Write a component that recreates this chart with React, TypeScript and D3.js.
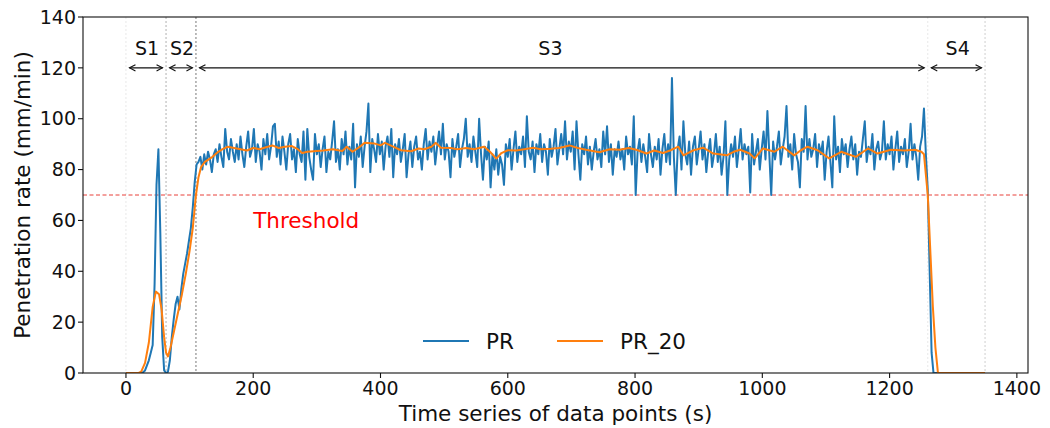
import React from "react";
import * as d3 from "d3";

// ---------- DATA ----------
// PR sampled every 3 s starting at t = 0
const prStep = 3;
const prValues: number[] = [
  // t = 0 .. 111
  0, 0, 0, 0, 0, 0, 0, 0, 0, 0.3, 1, 3, 5, 8, 11, 35, 74, 88, 55, 14,
  1, 0, 0.5, 5, 14, 21, 27, 30, 25, 33, 39, 43, 47, 52, 57, 65, 75, 82,
  // t = 114 .. 171
  83, 85, 80, 86, 82, 87, 84, 79, 86, 88, 83, 90, 85, 81, 96, 87, 84, 92, 87, 83,
  // t = 174 .. 231
  90, 84, 93, 86, 81, 89, 95, 85, 88, 96, 83, 90, 87, 80, 92, 86, 94, 84, 89, 97,
  // t = 234 .. 291
  98, 85, 91, 82, 93, 87, 80, 90, 94, 84, 88, 79, 92, 86, 83, 95, 76, 96, 85, 80,
  // t = 294 .. 351
  76, 94, 86, 90, 81, 88, 93, 79, 87, 84, 91, 99, 83, 88, 80, 92, 86, 95, 82, 89,
  // t = 354 .. 411
  84, 98, 73, 90, 85, 93, 81, 89, 95, 106, 79, 92, 88, 83, 94, 86, 91, 80, 89, 93,
  // t = 414 .. 471
  85, 96, 77, 90, 86, 92, 83, 88, 94, 77, 86, 91, 81, 89, 93, 84, 87, 80, 90, 96,
  // t = 474 .. 531
  84, 91, 87, 93, 82, 89, 95, 86, 98, 84, 90, 87, 77, 92, 85, 89, 94, 81, 88, 92,
  // t = 534 .. 591
  100, 85, 90, 83, 93, 87, 81, 100, 86, 76, 89, 84, 91, 73, 86, 80, 88, 78, 85, 82,
  // t = 594 .. 651
  74, 90, 85, 92, 80, 88, 95, 83, 89, 86, 93, 81, 101, 87, 84, 91, 79, 90, 86, 94,
  // t = 654 .. 711
  83, 90, 87, 78, 92, 85, 89, 96, 82, 88, 94, 86, 99, 84, 91, 87, 95, 80, 99, 86,
  // t = 714 .. 771
  76, 90, 86, 93, 82, 89, 80, 87, 92, 84, 88, 81, 95, 86, 97, 83, 90, 78, 88, 85,
  // t = 774 .. 831
  91, 84, 88, 80, 93, 86, 89, 82, 101, 70, 87, 92, 83, 90, 85, 79, 94, 86, 81, 89,
  // t = 834 .. 891
  84, 92, 78, 88, 94, 83, 90, 82, 116, 85, 70, 88, 93, 80, 99, 86, 82, 91, 78, 89,
  // t = 894 .. 951
  93, 82, 88, 95, 84, 90, 79, 87, 92, 81, 86, 94, 83, 89, 78, 85, 99, 70, 84, 90,
  // t = 954 .. 1011
  85, 93, 81, 88, 96, 84, 90, 86, 89, 71, 94, 82, 87, 92, 80, 88, 95, 84, 103, 86,
  // t = 1014 .. 1071
  70, 91, 84, 89, 95, 82, 88, 93, 105, 85, 90, 80, 94, 86, 83, 73, 92, 87, 105, 84,
  // t = 1074 .. 1131
  92, 85, 88, 94, 81, 90, 86, 91, 76, 87, 93, 83, 73, 101, 84, 89, 79, 92, 86, 90,
  // t = 1134 .. 1191
  81, 88, 93, 84, 90, 78, 87, 85, 92, 99, 83, 89, 86, 94, 80, 88, 91, 84, 87, 99,
  // t = 1194 .. 1251
  84, 90, 86, 93, 80, 88, 95, 83, 89, 86, 92, 81, 87, 98, 84, 90, 85, 76, 89, 93,
  // t = 1254 .. 1350
  104, 86, 72, 40, 8, 0, 0, 0, 0, 0, 0, 0, 0, 0, 0, 0, 0, 0, 0, 0,
  0, 0, 0, 0, 0, 0, 0, 0, 0, 0, 0, 0, 0,
];

// PR_20 (rolling mean) read at irregular times
const pr20Times: number[] = [
  0, 20, 24, 30, 36, 42, 47, 52, 56, 60, 63, 66, 70, 76, 82, 88, 94, 100, 105, 110,
  114, 118, 124, 130, 136, 145, 152, 160, 170, 180, 190, 200, 210, 220, 230, 240, 250, 260, 270, 277,
  285, 295, 310, 325, 340, 347, 356, 365, 375, 390, 400, 407, 420, 432, 448, 460, 469, 480, 487, 495,
  510, 521, 535, 547, 563, 572, 582, 590, 600, 613, 626, 640, 652, 668, 680, 689, 697, 710, 723, 744,
  760, 776, 790, 802, 818, 830, 844, 855, 868, 876, 892, 907, 923, 944, 955, 965, 980, 988, 1001, 1019,
  1032, 1050, 1060, 1071, 1087, 1105, 1124, 1135, 1147, 1166, 1181, 1202, 1223, 1240, 1250, 1254, 1257, 1260, 1264, 1268,
  1272, 1276, 1300, 1350,
];
const pr20Values: number[] = [
  0, 0, 0.5, 4, 12, 26, 32, 31, 25, 14, 8, 6.5, 10, 17, 24, 31, 39, 48, 57, 70,
  77, 81, 83, 84, 85, 87, 88, 89, 88.5, 88, 87.5, 88.5, 88, 88.8, 89.5, 88.5, 89, 89.3, 88, 86.5,
  87, 87.2, 87.5, 88, 87.3, 89, 87, 88.5, 90.5, 90.3, 89.5, 90.5, 89, 87.6, 87.2, 88.3, 88, 89, 90.5, 88.6,
  88.5, 88, 88.5, 88, 89, 87, 84.3, 86.5, 87.6, 87.5, 88, 88.6, 88, 88.2, 88.5, 89, 89.5, 88.5, 87.8, 86.8,
  88, 87.8, 88.5, 87.8, 86.3, 87.5, 86.5, 87.5, 89, 85.6, 87.6, 88.6, 86.3, 85.6, 87, 87.8, 86.3, 84.4, 88.3, 87,
  89, 85.6, 87.5, 89, 87.6, 84.4, 87, 86, 85, 88.3, 86.3, 87.8, 87.5, 87.8, 87, 86, 78, 70, 48, 26,
  10, 0, 0, 0,
];

const xTicks = [0, 200, 400, 600, 800, 1000, 1200, 1400];
const yTicks = [0, 20, 40, 60, 80, 100, 120, 140];
const stageBounds = [0, 63, 110, 1260, 1350];
const stageLabels = ["S1", "S2", "S3", "S4"];
const stageLabelX = [33, 88, 667, 1307];
const stageArrowY = 120;
const stageLabelY = 127.5;
const threshold = 70;
const thresholdLabel = "Threshold";
const thresholdLabelPos = [200, 60];
const seriesNames = ["PR", "PR_20"];

// ---------- STYLE ----------
const W = 1050;
const H = 428;
const M = { left: 83, right: 1028, top: 17, bottom: 373 };
const BLUE = "#1f77b4";
const ORANGE = "#ff7f0e";
const FONT = "DejaVu Sans, sans-serif";
const boundColors = ["#e8e8e8", "#b0b0b0", "#777777", "#e8e8e8", "#cfcfcf"];

export default function App() {
  const x = d3.scaleLinear().domain([-67.5, 1417.5]).range([M.left, M.right]);
  const y = d3.scaleLinear().domain([0, 140]).range([M.bottom, M.top]);

  const prPts: [number, number][] = prValues.map((v, i) => [i * prStep, v]);
  const pr20Pts: [number, number][] = pr20Times.map((t, i) => [t, pr20Values[i]]);
  const line = d3
    .line<[number, number]>()
    .x((d) => x(d[0]))
    .y((d) => y(d[1]));

  const shrink = 3.5;
  const head = 6;
  const hw = 3.2;

  return (
    <svg
      width={W}
      height={H}
      style={{ position: "absolute", left: 0, top: 0, background: "#fff" }}
      fontFamily={FONT}
    >
      <defs>
        <clipPath id="plot">
          <rect x={M.left} y={M.top} width={M.right - M.left} height={M.bottom - M.top} />
        </clipPath>
      </defs>

      {/* stage boundary lines */}
      {stageBounds.map((b, i) => (
        <line
          key={"b" + i}
          x1={x(b)}
          x2={x(b)}
          y1={M.top}
          y2={M.bottom}
          stroke={boundColors[i]}
          strokeWidth={1}
          strokeDasharray="2,2"
        />
      ))}

      {/* threshold */}
      <line
        x1={M.left}
        x2={M.right}
        y1={y(threshold)}
        y2={y(threshold)}
        stroke="#e8403a"
        strokeWidth={1}
        strokeDasharray="4,2.5"
      />
      <text
        x={x(thresholdLabelPos[0])}
        y={y(thresholdLabelPos[1])}
        dy="0.35em"
        fill="#ff0000"
        fontSize={21.5}
      >
        {thresholdLabel}
      </text>

      {/* series */}
      <g clipPath="url(#plot)">
        <path d={line(prPts) || ""} fill="none" stroke={BLUE} strokeWidth={2} strokeLinejoin="round" />
        <path d={line(pr20Pts) || ""} fill="none" stroke={ORANGE} strokeWidth={2} strokeLinejoin="round" />
      </g>

      {/* stage arrows */}
      {stageLabels.map((s, i) => {
        const x1 = x(stageBounds[i]) + shrink;
        const x2 = x(stageBounds[i + 1]) - shrink;
        const yy = y(stageArrowY);
        return (
          <g key={"s" + i}>
            <line x1={x1} x2={x2} y1={yy} y2={yy} stroke="#111" strokeWidth={1.1} />
            <path
              d={`M${x1 + head},${yy - hw}L${x1},${yy}L${x1 + head},${yy + hw}M${x2 - head},${yy - hw}L${x2},${yy}L${x2 - head},${yy + hw}`}
              fill="none"
              stroke="#111"
              strokeWidth={1.1}
            />
            <text
              x={x(stageLabelX[i])}
              y={y(stageLabelY)}
              dy="0.35em"
              textAnchor="middle"
              fontSize={19}
              fill="#111"
            >
              {s}
            </text>
          </g>
        );
      })}

      {/* spines */}
      <rect
        x={M.left}
        y={M.top}
        width={M.right - M.left}
        height={M.bottom - M.top}
        fill="none"
        stroke="#111"
        strokeWidth={1.1}
      />

      {/* x ticks */}
      {xTicks.map((t) => (
        <g key={"xt" + t}>
          <line x1={x(t)} x2={x(t)} y1={M.bottom} y2={M.bottom + 5} stroke="#111" strokeWidth={1.1} />
          <text x={x(t)} y={M.bottom + 22} textAnchor="middle" fontSize={19} fill="#111">
            {t}
          </text>
        </g>
      ))}
      {/* y ticks */}
      {yTicks.map((t) => (
        <g key={"yt" + t}>
          <line x1={M.left - 5} x2={M.left} y1={y(t)} y2={y(t)} stroke="#111" strokeWidth={1.1} />
          <text x={M.left - 7} y={y(t)} dy="0.35em" textAnchor="end" fontSize={19} fill="#111">
            {t}
          </text>
        </g>
      ))}

      {/* axis labels */}
      <text
        x={(M.left + M.right) / 2}
        y={421}
        textAnchor="middle"
        fontSize={21.5}
        fill="#111"
      >
        Time series of data points (s)
      </text>
      <text
        transform={`translate(22,${(M.top + M.bottom) / 2}) rotate(-90)`}
        textAnchor="middle"
        dy="0.35em"
        fontSize={21.5}
        fill="#111"
      >
        Penetration rate (mm/min)
      </text>

      {/* legend */}
      {seriesNames.map((n, i) => {
        const lx = 423 + i * 134;
        const ly = 341;
        return (
          <g key={"lg" + i}>
            <line x1={lx} x2={lx + 46} y1={ly} y2={ly} stroke={i === 0 ? BLUE : ORANGE} strokeWidth={2} />
            <text x={lx + 63} y={ly} dy="0.35em" fontSize={21.5} fill="#111">
              {n}
            </text>
          </g>
        );
      })}
    </svg>
  );
}
